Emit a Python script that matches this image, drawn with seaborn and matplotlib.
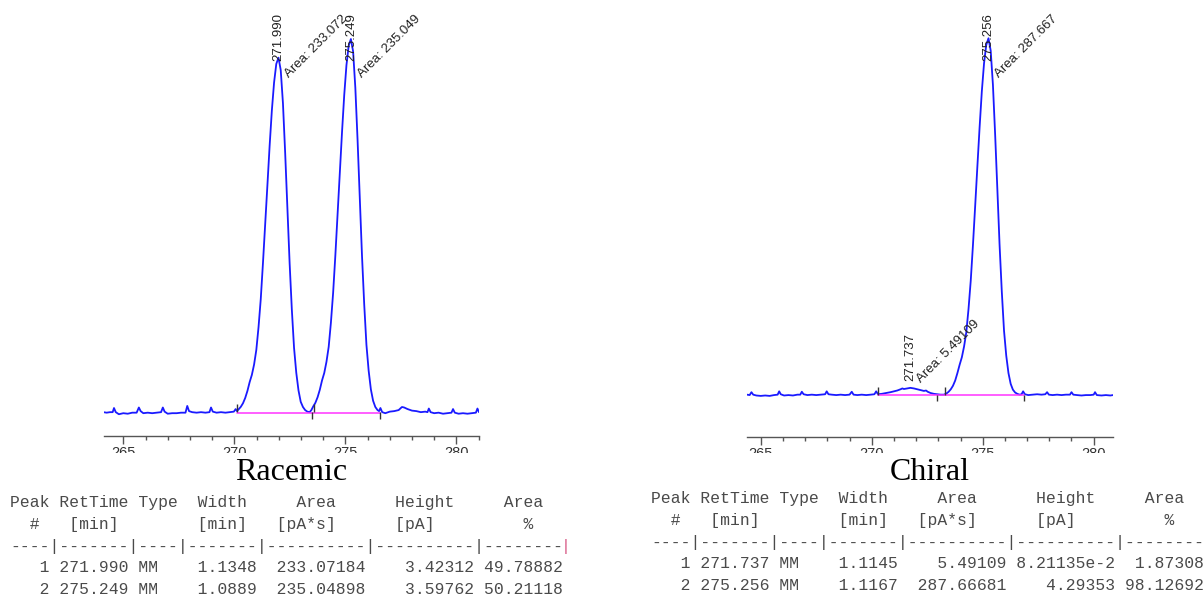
import matplotlib
matplotlib.use("Agg")
import matplotlib.pyplot as plt
import seaborn as sns
from matplotlib.patches import Rectangle
from matplotlib.ticker import MultipleLocator

# ---------------- Racemic chromatogram (time [min], signal [pA]) ----------------
rac_time = [
    264.10, 264.25, 264.40, 264.52, 264.58, 264.66, 264.80, 265.00, 265.20, 265.40,
    265.60, 265.70, 265.78, 265.90, 266.10, 266.30, 266.50, 266.70, 266.78, 266.86,
    267.00, 267.20, 267.40, 267.60, 267.80, 267.88, 267.96, 268.10, 268.30, 268.50,
    268.70, 268.88, 268.95, 269.03, 269.20, 269.40, 269.60, 269.80, 269.98, 270.06,
    270.12, 270.19, 270.29, 270.39, 270.49, 270.59, 270.69, 270.79, 270.89, 270.99,
    271.09, 271.19, 271.29, 271.39, 271.49, 271.59, 271.69, 271.79, 271.89, 271.99,
    272.09, 272.19, 272.29, 272.39, 272.49, 272.59, 272.69, 272.79, 272.89, 272.99,
    273.09, 273.19, 273.29, 273.39,
    273.47, 273.55, 273.65, 273.75, 273.85, 273.95, 274.05, 274.15, 274.25, 274.35,
    274.45, 274.55, 274.65, 274.75, 274.85, 274.95, 275.05, 275.15, 275.25, 275.35,
    275.45, 275.55, 275.65, 275.75, 275.85, 275.95, 276.05, 276.15, 276.25, 276.35,
    276.45, 276.52, 276.58, 276.66,
    276.80, 277.00, 277.20, 277.40, 277.55, 277.65, 277.80, 278.00, 278.20, 278.40,
    278.60, 278.70, 278.76, 278.84, 279.00, 279.20, 279.40, 279.60, 279.78, 279.85,
    279.93, 280.10, 280.30, 280.50, 280.70, 280.88, 280.95, 281.02,
]
rac_signal = [
    0.000, -0.005, 0.000, 0.000, 0.040, 0.000, -0.020, -0.010, -0.015, -0.005,
    -0.005, 0.045, 0.010, -0.010, -0.005, -0.010, -0.005, 0.000, 0.045, 0.005,
    -0.015, -0.010, -0.010, -0.005, -0.005, 0.060, 0.010, 0.000, -0.005, 0.000,
    -0.005, 0.000, 0.045, 0.005, -0.005, 0.000, -0.005, 0.000, 0.005, 0.030,
    0.010, 0.027, 0.051, 0.086, 0.137, 0.205, 0.290, 0.360, 0.460, 0.600,
    0.820, 1.090, 1.440, 1.810, 2.190, 2.570, 2.910, 3.180, 3.360, 3.420,
    3.300, 2.980, 2.500, 1.970, 1.440, 0.990, 0.620, 0.380, 0.210, 0.100,
    0.050, 0.020, 0.005, 0.000,
    0.020, 0.054, 0.090, 0.144, 0.216, 0.306, 0.378, 0.486, 0.630, 0.864,
    1.152, 1.512, 1.908, 2.304, 2.700, 3.060, 3.348, 3.535, 3.600, 3.480,
    3.130, 2.630, 2.070, 1.510, 1.040, 0.650, 0.400, 0.220, 0.110, 0.050,
    0.020, 0.010, 0.040, 0.000,
    -0.010, 0.005, 0.010, 0.020, 0.050, 0.045, 0.030, 0.015, 0.010, 0.000,
    0.005, 0.000, 0.035, 0.000, -0.010, -0.005, -0.015, -0.010, -0.005, 0.030,
    -0.005, -0.015, -0.010, -0.015, -0.010, -0.005, 0.035, 0.000,
]

# ---------------- Chiral chromatogram ----------------
chi_time = [
    264.38, 264.50, 264.58, 264.66, 264.80, 265.00, 265.20, 265.40, 265.60, 265.76,
    265.83, 265.90, 266.05, 266.25, 266.45, 266.65, 266.78, 266.85, 266.93, 267.10,
    267.30, 267.50, 267.70, 267.90, 267.97, 268.05, 268.20, 268.40, 268.60, 268.80,
    269.00, 269.10, 269.18, 269.35, 269.55, 269.75, 269.95, 270.12, 270.20, 270.28,
    270.45, 270.65, 270.85, 271.00, 271.15, 271.30, 271.38, 271.45, 271.60, 271.74,
    271.90, 272.05, 272.20, 272.35, 272.45, 272.52, 272.65, 272.80, 272.95, 273.10,
    273.25,
    273.36, 273.46, 273.56, 273.66, 273.76, 273.86, 273.96, 274.06, 274.16, 274.26,
    274.36, 274.46, 274.56, 274.66, 274.76, 274.86, 274.96, 275.06, 275.16, 275.26,
    275.36, 275.46, 275.56, 275.66, 275.76, 275.86, 275.96, 276.06, 276.16, 276.26,
    276.36, 276.46, 276.56, 276.66,
    276.75, 276.82, 276.90, 277.05, 277.25, 277.45, 277.65, 277.82, 277.90, 277.98,
    278.15, 278.35, 278.55, 278.75, 278.93, 279.00, 279.08, 279.25, 279.45, 279.65,
    279.85, 280.00, 280.06, 280.14, 280.35, 280.55, 280.75, 280.87,
]
chi_signal = [
    0.000, -0.005, 0.030, 0.000, -0.010, -0.015, -0.010, -0.015, -0.005, 0.000,
    0.040, 0.005, -0.010, -0.005, -0.010, 0.000, 0.000, 0.035, 0.005, -0.005,
    0.000, -0.005, 0.000, 0.005, 0.040, 0.005, 0.000, -0.005, 0.000, -0.005,
    0.000, 0.035, 0.000, -0.005, 0.000, -0.005, 0.000, 0.005, 0.040, 0.005,
    0.010, 0.020, 0.030, 0.040, 0.050, 0.065, 0.075, 0.068, 0.075, 0.082,
    0.075, 0.065, 0.055, 0.045, 0.050, 0.035, 0.020, 0.010, 0.005, 0.000,
    0.000,
    0.013, 0.034, 0.064, 0.107, 0.170, 0.260, 0.360, 0.450, 0.580, 0.750,
    1.030, 1.370, 1.800, 2.270, 2.750, 3.220, 3.650, 3.990, 4.210, 4.290,
    4.140, 3.730, 3.130, 2.470, 1.800, 1.240, 0.770, 0.470, 0.260, 0.130,
    0.060, 0.026, 0.010, 0.000,
    0.005, 0.040, 0.005, -0.005, 0.000, 0.005, 0.000, 0.005, 0.030, 0.000,
    -0.005, 0.000, -0.005, 0.000, 0.000, 0.030, 0.000, -0.005, -0.010, -0.005,
    -0.005, 0.000, 0.030, -0.005, -0.010, -0.005, -0.010, -0.005,
]

# ---------------- Peak tables ----------------
rac_peak_no = [1, 2]
rac_rt = [271.990, 275.249]
rac_type = ["MM", "MM"]
rac_width = [1.1348, 1.0889]
rac_area = [233.07184, 235.04898]
rac_height = [3.42312, 3.59762]
rac_area_pct = [49.78882, 50.21118]
rac_baseline = [270.10, 276.55]
rac_start_marks = [270.10, 273.58]
rac_end_marks = [273.50, 276.55]

chi_peak_no = [1, 2]
chi_rt = [271.737, 275.256]
chi_type = ["MM", "MM"]
chi_width = [1.1145, 1.1167]
chi_area = [5.49109, 287.66681]
chi_height = [8.21135e-2, 4.29353]
chi_area_pct = [1.87308, 98.12692]
chi_baseline = [270.28, 276.85]
chi_start_marks = [270.28, 273.28]
chi_end_marks = [272.93, 276.85]

panel_titles = ["Racemic", "Chiral"]
header_1 = "Peak RetTime Type  Width     Area      Height     Area  "
header_2 = "  #   [min]        [min]   [pA*s]      [pA]         %   "
dash_line = "----|-------|----|-------|----------|----------|--------"

assert len(rac_time) == len(rac_signal)
assert len(chi_time) == len(chi_signal)

sns.set_theme(style="white")
plt.rcParams["font.family"] = ["Liberation Sans", "DejaVu Sans"]

W, H = 1203, 596
fig = plt.figure(figsize=(W / 100, H / 100), dpi=100)
fig.patch.set_facecolor("white")

MONO_SIZE = 11.8
CHAR_W = MONO_SIZE * 100 / 72 * 0.6  # px per monospace character


def fig_box(x0, x1, ybot, ytop):
    return [x0 / W, 1 - ybot / H, (x1 - x0) / W, (ybot - ytop) / H]


def draw_panel(ax, t, s, rts, heights, areas, bl, starts, ends, xlim, ylim):
    sns.lineplot(x=t, y=s, ax=ax, color="#1a1aff", linewidth=1.3,
                 estimator=None, sort=False, zorder=2)
    ax.plot(bl, [-0.004, -0.004], color="#ff33ff", linewidth=1.1, zorder=3)
    rng = ylim[1] - ylim[0]
    ax.vlines(starts, 0, 0.018 * rng, color="#333333", linewidth=1.0, zorder=4)
    ax.vlines(ends, -0.015 * rng, 0.0, color="#333333", linewidth=1.0, zorder=4)
    ax.set_xlim(*xlim)
    ax.set_ylim(*ylim)
    for side in ("left", "right", "top"):
        ax.spines[side].set_visible(False)
    ax.spines["bottom"].set_color("#555555")
    ax.spines["bottom"].set_linewidth(1.0)
    ax.set_yticks([])
    ax.set_xlabel("")
    ax.set_ylabel("")
    ax.xaxis.set_major_locator(MultipleLocator(5))
    ax.xaxis.set_minor_locator(MultipleLocator(1))
    ax.tick_params(axis="x", which="major", bottom=True, length=6, width=1.0,
                   color="#555555", direction="out", labelsize=10.5,
                   labelcolor="#333333", pad=1.5)
    ax.tick_params(axis="x", which="minor", bottom=True, length=3, width=1.0,
                   color="#555555", direction="out")
    ax.set_facecolor("white")
    for rt, h, a in zip(rts, heights, areas):
        y_lab = min(h + 0.015 * rng, ylim[0] + 0.88 * rng)
        ax.text(rt, y_lab, f"{rt:.3f}", rotation=90, ha="center", va="bottom",
                fontsize=9.5, color="#222222", clip_on=False, zorder=5)
        y_area = min(h + 0.007 * rng, ylim[0] + 0.835 * rng)
        ax.text(rt + 0.2, y_area, f"Area: {a:.6g}", rotation=45, ha="left",
                va="bottom", fontsize=9.5, color="#222222", clip_on=False,
                zorder=5)


ax1 = fig.add_axes(fig_box(104, 479, 436, 10))
draw_panel(ax1, rac_time, rac_signal, rac_rt, rac_height, rac_area,
           rac_baseline, rac_start_marks, rac_end_marks,
           (264.13, 281.02), (-0.23, 3.88))

ax2 = fig.add_axes(fig_box(747, 1113, 436.7, 10))
draw_panel(ax2, chi_time, chi_signal, chi_rt, chi_height, chi_area,
           chi_baseline, chi_start_marks, chi_end_marks,
           (264.38, 280.87), (-0.506, 4.63))

# white band that crops the tick labels like the reference
fig.add_artist(Rectangle((0, 0), 1, 1 - 453 / H, transform=fig.transFigure,
                         facecolor="white", edgecolor="none", zorder=5))

# titles
fig.text(291 / W, 1 - 472 / H, panel_titles[0], ha="center", va="center",
         fontsize=23, family="Liberation Serif", color="black", zorder=6)
fig.text(930 / W, 1 - 472 / H, panel_titles[1], ha="center", va="center",
         fontsize=23, family="Liberation Serif", color="black", zorder=6)


def fmt_height(h):
    if h < 0.1:
        return f"{h * 100:.5f}e-2"
    return f"{h:10.5f}"


def table(x0, y_rows, nos, rts, types, widths, areas, heights, pcts):
    rows = [header_1, header_2, dash_line]
    for n, rt, ty, w, a, h, p in zip(nos, rts, types, widths, areas, heights, pcts):
        rows.append(f"{n:4d} {rt:7.3f} {ty:<4s} {w:7.4f} {a:10.5f} "
                    f"{fmt_height(h):>10s} {p:8.5f}")
    for row, y in zip(rows, y_rows):
        fig.text(x0 / W, 1 - y / H, row, ha="left", va="center",
                 family="Liberation Mono", fontsize=MONO_SIZE, color="#4a4a4a",
                 zorder=6)
    fig.text((x0 + len(dash_line) * CHAR_W) / W, 1 - y_rows[2] / H, "|",
             ha="left", va="center", family="Liberation Mono",
             fontsize=MONO_SIZE, color="#d9608a", zorder=6)


table(10, [502, 524, 546, 568, 590], rac_peak_no, rac_rt, rac_type, rac_width,
      rac_area, rac_height, rac_area_pct)
table(651, [498, 520, 542, 564, 586], chi_peak_no, chi_rt, chi_type, chi_width,
      chi_area, chi_height, chi_area_pct)

fig.savefig("out.png", dpi=100, facecolor="white")
